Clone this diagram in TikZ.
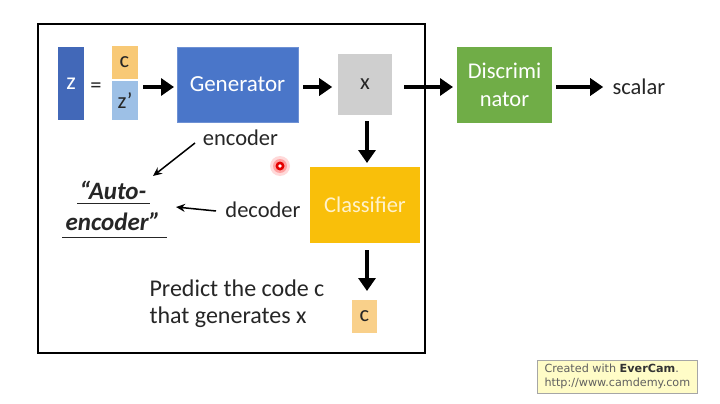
\documentclass[tikz,border=0pt]{standalone}
\usepackage{fontspec}
\setmainfont{Carlito}
\newfontfamily\evfont{DejaVu Sans}
\usetikzlibrary{arrows.meta}
\definecolor{zblue}{HTML}{4268B8}
\definecolor{genblue}{HTML}{4A76C9}
\definecolor{corange}{HTML}{F8C976}
\definecolor{zplight}{HTML}{9DC0E6}
\definecolor{xgray}{HTML}{CFCFCF}
\definecolor{discgreen}{HTML}{70AD47}
\definecolor{clsorange}{HTML}{F9BF0A}
\definecolor{clstext}{HTML}{FFF2CC}
\definecolor{c2orange}{HTML}{F9D08A}
\definecolor{txt}{HTML}{262626}
\tikzset{
  box/.style={draw=none, inner sep=0pt, align=center},
  bigtxt/.style={font=\fontsize{22.5}{28}\selectfont},
  fat/.style={line width=4.2, -{Triangle[length=13,width=17]}},
  thin/.style={line width=1.5, -{Stealth[length=9,width=8]}},
}
\begin{document}
\begin{tikzpicture}[x=1pt,y=-1pt]
\useasboundingbox[fill=white] (0,0) rectangle (720,404);
% frame
\draw[line width=2.5] (38,24) rectangle (425,353);
% top row
\node[box, fill=zblue, minimum width=26, minimum height=73, text=white, font=\fontsize{24}{28}\selectfont] (z) at (71,83.5) {z};
\node[bigtxt, text=txt] (eq) at (96,88) {=};
\node[box, fill=corange, minimum width=26, minimum height=33, text=txt, bigtxt] (c) at (124.5,62.5) {c};
\node[box, fill=zplight, minimum width=26, minimum height=39, text=txt, bigtxt] (zp) at (125,100.5) {z’};
\node[box, fill=genblue, draw=genblue!80!white, minimum width=121, minimum height=75, text=white, font=\fontsize{23}{28}\selectfont] (gen) at (237.5,84.5) {Generator};
\node[box, fill=xgray, minimum width=54, minimum height=61, text=txt, bigtxt] (x) at (365,84.5) {x};
\node[box, fill=discgreen, minimum width=95, minimum height=76, text=white, font=\fontsize{22.5}{28}\selectfont] (disc) at (504.5,85) {Discrimi\\nator};
\node[bigtxt, text=txt, anchor=west] (scalar) at (609,87) {scalar};
% classifier
\node[box, fill=clsorange, minimum width=110, minimum height=76, text=clstext, bigtxt] (cls) at (365,205) {Classifier};
\node[box, fill=c2orange, minimum width=25, minimum height=33, text=txt, bigtxt] (c2) at (364.5,316.5) {c};
\node[text=txt, align=left, anchor=west, font=\fontsize{24}{27}\selectfont] (pred) at (146,303.5) {Predict the code c\\that generates x};
% labels
\node[bigtxt, text=txt] (enc) at (240.5,138) {encoder};
\node[bigtxt, text=txt] (dec) at (263,210) {decoder};
\node[text=txt, font=\fontsize{25}{31}\selectfont\bfseries\itshape, align=center] (auto) at (113,206) {“Auto-\\encoder”};
\coordinate (u1a) at (77,203); \coordinate (u1b) at (150,203);
\coordinate (u2a) at (62,237); \coordinate (u2b) at (167,237);
\draw[line width=1, txt] (u1a) -- (u1b);
\draw[line width=1, txt] (u2a) -- (u2b);
% arrows
\coordinate (ga) at (143,87); \coordinate (gb) at (174,87);
\draw[fat] (ga) -- (gb);
\draw[fat] (gen.east) ++(5,2.5) -- ++(29,0);
\coordinate (xa) at (404,87); \coordinate (xb) at (453,87);
\draw[fat] (xa) -- (xb);
\draw[fat] (disc.east) ++(4,2) -- ++(47,0);
\draw[fat] (367,121) -- (367,163);
\draw[fat] (367,250) -- (367,291);
\coordinate (ea) at (195,143); \coordinate (eb) at (153,176);
\draw[thin] (ea) -- (eb);
\coordinate (da) at (216,211); \coordinate (db) at (176,207);
\draw[thin] (da) -- (db);
% laser dot
\fill[red, opacity=0.15] (280,166) circle (10);
\fill[red, opacity=0.25] (280,166) circle (7);
\fill[red!90!black] (280,166) circle (4.5);
\fill[white] (280,166) circle (1.8);
% evercam badge
\node[box, fill=yellow!22, draw=gray!70, minimum width=160, minimum height=33] (ev) at (617,376.5) {};
\node[anchor=west, text=gray!75!black, font=\evfont\fontsize{11.2}{14.5}\selectfont, align=left] (evt) at (541,376.5) {Created with \textbf{\textcolor{black!80}{EverCam}}.\\http://www.camdemy.com};
\end{tikzpicture}
\end{document}
